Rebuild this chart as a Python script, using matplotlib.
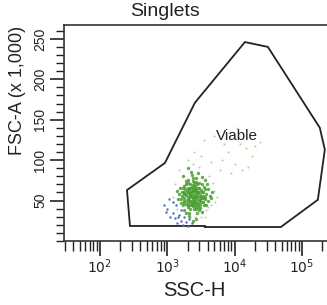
import matplotlib
matplotlib.use('Agg')
import matplotlib.pyplot as plt
from matplotlib.ticker import LogLocator, MultipleLocator, FixedFormatter, NullFormatter
import numpy as np

plt.rcParams['font.family'] = ['Liberation Sans Narrow', 'Liberation Sans', 'DejaVu Sans']

# Viable gate polygon (SSC-H, FSC-A x1000)
gate_ssc = [279, 252, 923, 2576, 14250, 31260, 184900, 219600, 172900, 48750, 3620, 3620]
gate_fsc = [18.6, 63, 96.5, 171, 246, 240, 140, 113, 51, 17.3, 17.3, 18.6]

# dense green events (SSC-H, FSC-A)
green_ssc = [1600, 1800, 2000, 2200, 2400, 2600, 2800, 3000, 1700, 1900, 2100, 2300, 2500, 2700,
             2900, 3200, 3400, 3600, 1500, 2000, 2200, 2400, 2600, 2800, 3000, 1800, 2100, 2300,
             2500, 2700, 1900, 2200, 2600, 3100, 3300, 1700, 2000, 2400, 2800, 3500, 2100, 2500,
             1600, 2900, 3800, 4000, 1400, 2300, 2700, 3000, 2000, 2400, 2200, 1800, 2600, 3200,
             2900, 2100, 2500, 1900, 2350, 2450, 2150, 1950, 2750, 3050, 2550, 1750, 2050, 2650,
             3400, 3700, 4300, 4600, 3900, 2250, 2000, 1700, 2900, 3300, 1900, 2400, 2700, 3300,
             1750, 2100, 2050, 2350, 2850, 3150, 1850, 2650,
             1650, 1850, 2250, 2450, 2750, 3100, 3500, 1950, 2150, 2550, 2950, 3350, 1550, 2050,
             2400, 2850, 3250, 3650, 1800, 2300, 2600, 3000, 3450, 2200, 2700, 1900, 2500, 3100,
             4100, 4400, 3600, 1450, 1650, 2000, 2350, 2800, 3200, 2450, 2150, 2600, 1800, 3800]
green_fsc = [52, 60, 48, 56, 62, 50, 58, 66, 44, 70, 64, 45, 72, 42,
             54, 48, 60, 52, 58, 76, 40, 53, 68, 47, 38, 53, 59, 67,
             57, 63, 46, 50, 55, 57, 70, 65, 55, 74, 35, 44, 35, 39,
             47, 61, 58, 50, 62, 82, 78, 72, 42, 47, 61, 68, 44, 63,
             42, 52, 49, 57, 58, 64, 70, 62, 52, 51, 60, 50, 66, 73,
             53, 64, 56, 60, 70, 85, 90, 80, 84, 79, 35, 25, 27, 36,
             38, 31, 45, 50, 46, 55, 58, 40,
             56, 64, 47, 69, 61, 44, 67, 51, 57, 65, 49, 56, 66, 72,
             43, 66, 61, 55, 58, 54, 47, 60, 48, 66, 56, 74, 52, 41,
             64, 53, 76, 52, 60, 60, 62, 70, 53, 78, 45, 63, 48, 45]

# lighter / sparse green events
light_ssc = [1300, 1200, 4500, 5000, 4800, 3600, 3200, 2600, 2200, 1500, 2400, 3000, 4200, 5500,
             3800, 4100, 1400, 5200, 2000, 2500, 3200, 4500, 6000, 8000, 10000, 12000, 15000,
             18000, 20000, 7000, 5000, 3500, 9000, 13000, 24000, 11000, 6500, 16000]
light_fsc = [70, 55, 45, 62, 72, 30, 30, 30, 28, 88, 95, 92, 80, 55,
             38, 42, 40, 48, 100, 110, 105, 98, 88, 110, 95, 120, 115,
             105, 118, 120, 130, 125, 84, 88, 122, 140, 100, 92]

# blue events (lower left of the cluster)
blue_ssc = [1000, 1100, 1200, 1300, 1400, 1500, 1600, 1700, 1800, 1200, 1350, 1900, 2000, 2300,
            1050, 900, 1600, 1450, 2100, 950]
blue_fsc = [40, 30, 35, 28, 22, 32, 25, 20, 30, 48, 45, 24, 18, 22,
            52, 45, 38, 30, 27, 36]

x_major = [100, 1000, 10000, 100000]
x_labels = ['$10^{2}$', '$10^{3}$', '$10^{4}$', '$10^{5}$']
y_major = [50, 100, 150, 200, 250]

fig = plt.figure(figsize=(3.27, 3.05), dpi=100)
ax = fig.add_axes([0.1957, 0.2098, 0.8135, 0.708])

ax.fill(gate_ssc, gate_fsc, facecolor='none', edgecolor='#222222', linewidth=1.3)
ax.scatter(light_ssc, light_fsc, s=2, color='#b4cfa0', linewidths=0)
ax.scatter(blue_ssc, blue_fsc, s=3, color='#4a6fc8', linewidths=0)
ax.scatter(green_ssc, green_fsc, s=6, color='#4a9e30', linewidths=0, alpha=0.85)
ax.text(10840, 130, 'Viable', fontsize=11, ha='center', va='center', color='#222222')

ax.set_xscale('log')
ax.set_xlim(29.2, 262144)
ax.set_ylim(0, 267)

ax.set_xticks(x_major)
ax.xaxis.set_major_formatter(FixedFormatter(x_labels))
ax.xaxis.set_minor_locator(LogLocator(base=10, subs=np.arange(2, 10)))
ax.xaxis.set_minor_formatter(NullFormatter())
ax.set_yticks(y_major)
ax.yaxis.set_minor_locator(MultipleLocator(10))

ax.tick_params(axis='x', which='major', length=11, width=1.2, pad=1, labelsize=10, colors='#222222')
ax.tick_params(axis='x', which='minor', length=7, width=1.0, colors='#222222')
ax.tick_params(axis='y', which='major', length=10, width=1.2, pad=2, labelsize=10, colors='#222222')
ax.tick_params(axis='y', which='minor', length=6, width=1.0, colors='#222222')
for lbl in ax.get_yticklabels():
    lbl.set_rotation(90)
    lbl.set_va('center')

for side in ['left', 'top', 'bottom']:
    ax.spines[side].set_color('#333333')
    ax.spines[side].set_linewidth(1.2)
ax.spines['right'].set_visible(False)

fig.text(165 / 327, 1 - 12 / 305, 'Singlets', fontsize=14, ha='center', va='center', color='#222222',
         family=['Liberation Sans', 'DejaVu Sans'])
fig.text(194 / 327, 1 - 290 / 305, 'SSC-H', fontsize=14.5, ha='center', va='center', color='#222222',
         family=['Liberation Sans', 'DejaVu Sans'])
fig.text(18 / 327, 1 - 90 / 305, 'FSC-A (x 1,000)', fontsize=13, rotation=90, ha='center', va='center',
         color='#222222', family=['Liberation Sans', 'DejaVu Sans'])

fig.savefig('out.png', dpi=100)
